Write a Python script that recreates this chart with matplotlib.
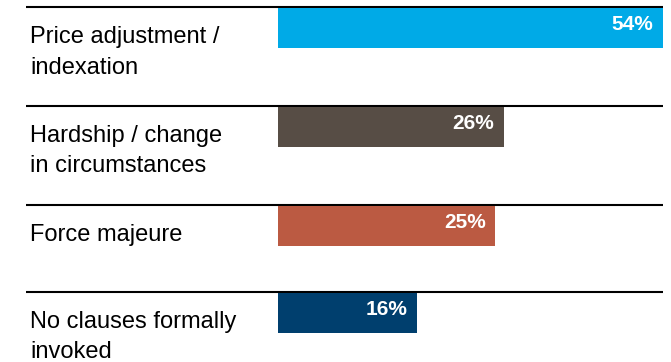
import matplotlib.pyplot as plt
from matplotlib.transforms import blended_transform_factory

plt.rcParams['font.family'] = ['Liberation Sans', 'DejaVu Sans']

# data
categories = ['Price adjustment /\nindexation',
              'Hardship / change\nin circumstances',
              'Force majeure',
              'No clauses formally\ninvoked']
values = [54, 26, 25, 16]
labels = ['54%', '26%', '25%', '16%']
colors = ['#00AAE7', '#574D45', '#BB5A42', '#003F6E']

# layout (pixel rows, y grows downward)
row_top = [7, 106, 205, 292]
bar_h = 40
x_max = 44.3

fig = plt.figure(figsize=(6.71, 3.62), dpi=100)
W, H = 671, 362
ax = fig.add_axes([278 / W, 0, (663 - 278) / W, 1])
ax.set_xlim(0, x_max)
ax.set_ylim(H, 0)
ax.axis('off')

line_start = (26 - 278) / (663 - 278)
txt = blended_transform_factory(fig.transFigure, ax.transData)

for cat, v, lab, c, top in zip(categories, values, labels, colors, row_top):
    # separator rule across the whole row
    ax.plot([line_start * x_max, x_max], [top, top], color='black', lw=1.5,
            clip_on=False, zorder=1, solid_capstyle='butt')
    ax.barh(top + 1 + bar_h / 2, v, height=bar_h, color=c, zorder=2)
    ax.annotate(lab, xy=(min(v, x_max), top + 23), xytext=(-7, 0),
                textcoords='offset points', ha='right', va='baseline',
                color='white', fontsize=15, fontweight='bold', zorder=3)
    ax.text(30 / W, top + 19, cat, transform=txt, ha='left', va='top',
            fontsize=17, linespacing=1.5, color='black')

fig.savefig('out.png', dpi=100)
